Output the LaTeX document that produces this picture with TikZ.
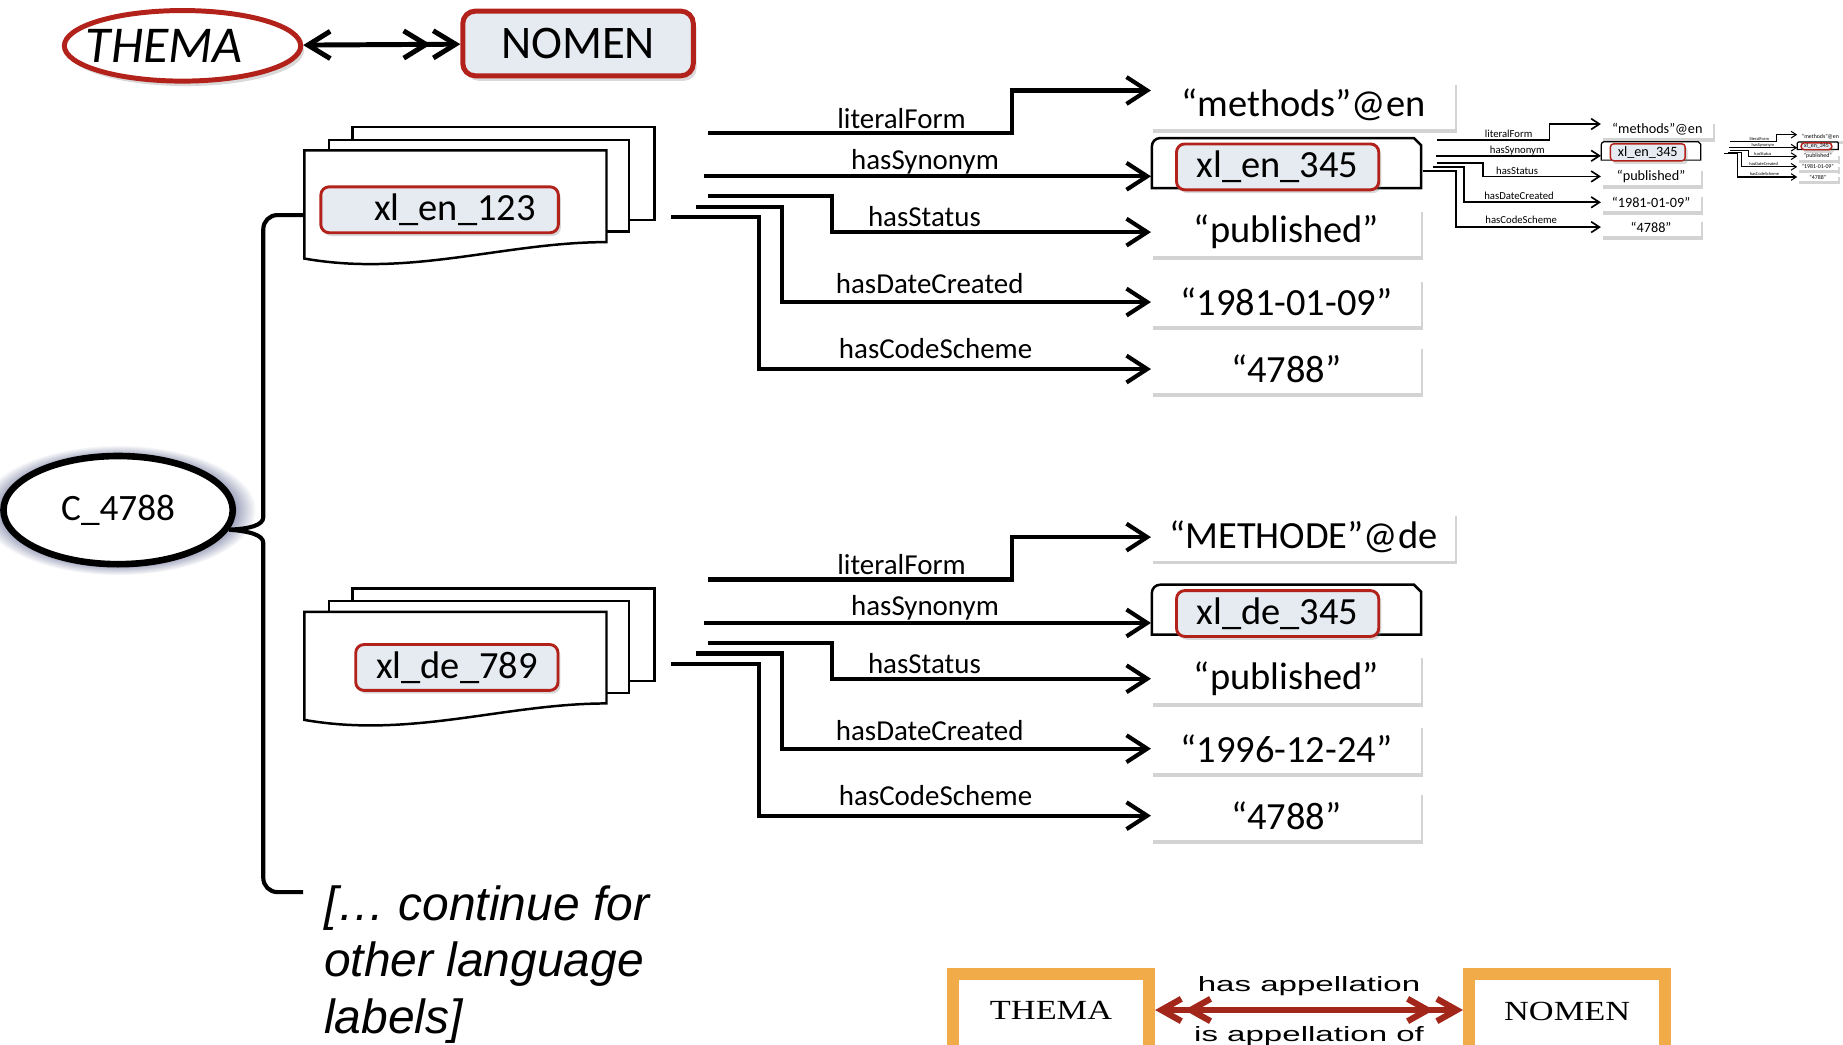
\documentclass[tikz,border=0pt]{standalone}
\usepackage{fontspec}
\setmainfont{Carlito}
\newfontfamily\arialfont{Liberation Sans}
\newfontfamily\legsans[FakeStretch=1.6]{Liberation Sans}
\newfontfamily\legserif[FakeStretch=1.24]{Liberation Serif}
\usetikzlibrary{arrows.meta,shapes.geometric,shadows}

\definecolor{nomenred}{RGB}{178,34,26}
\definecolor{nomenfill}{RGB}{229,235,240}
\definecolor{legorange}{RGB}{241,171,72}
\definecolor{legred}{RGB}{163,38,26}
\definecolor{glowblue}{RGB}{140,145,175}

\tikzset{
  propline/.style={line width=1pt, -{Straight Barb[length=0pt 5,width=0pt 6.5]}},
  propname/.style={font=\fontsize{7}{8}\selectfont, inner sep=0pt, anchor=base},
  valbox/.style={fill=white, inner sep=0pt, minimum width=2.29cm, minimum height=0.41cm,
    font=\fontsize{9.3}{11}\selectfont, drop shadow={opacity=0.35, shadow xshift=0.4pt, shadow yshift=-0.9pt}},
  xlbox/.style={draw=nomenred, fill=nomenfill, line width=0.7pt, rounded corners=2pt, inner sep=0pt,
    minimum height=0.39cm, font=\fontsize{9.3}{11}\selectfont,
    drop shadow={opacity=0.3, shadow xshift=0.6pt, shadow yshift=-0.8pt}},
  tabarea/.style={inner sep=0pt, minimum width=2.29cm, minimum height=0.425cm},
  tabline/.style={draw, fill=white, line width=0.6pt},
  pagesheet/.style={draw, fill=white, line width=0.6pt},
  branch/.style={line width=1pt},
  thumb/.style={transform shape, propline/.append style={line width=0.4pt},
    tabline/.append style={line width=0.3pt}, xlbox/.append style={line width=0.35pt, rounded corners=0.8pt}},
  thema/.style={ellipse, draw=nomenred, line width=1.2pt, fill=white, minimum width=2.01cm,
    minimum height=0.6cm, inner sep=0pt, font=\fontsize{12.5}{15}\selectfont\itshape,
    drop shadow={opacity=0.3, shadow xshift=0.8pt, shadow yshift=-1.2pt}},
  nomen/.style={rectangle, rounded corners=3pt, draw=nomenred, line width=1.2pt, fill=nomenfill,
    minimum width=1.96cm, minimum height=0.55cm, inner sep=0pt, font=\fontsize{11.3}{13}\selectfont,
    drop shadow={opacity=0.3, shadow xshift=0.8pt, shadow yshift=-1.2pt}},
  duo/.style={line width=1.2pt,
    {Straight Barb[length=0pt 4.5,width=0pt 5.5]}-{Straight Barb[length=0pt 4.5,width=0pt 5.5]Straight Barb[length=0pt 4.5,width=0pt 5.5]}},
  concept/.style={ellipse, draw, line width=1.6pt, fill=white, minimum width=1.95cm, minimum height=0.92cm,
    inner sep=0pt, font=\fontsize{9}{11}\selectfont,
    circular glow={fill=glowblue, opacity=0.8, shadow scale=1.2}},
  moretext/.style={anchor=north west, inner sep=0pt, align=left,
    font=\arialfont\itshape\fontsize{11.6}{13.6}\selectfont},
  legbox/.style={anchor=north, draw=legorange, line width=2.85pt, fill=white, minimum width=1.67cm,
    inner xsep=0pt, inner ysep=0.234cm, text depth=1cm, font=\legserif\fontsize{6.7}{8}\selectfont},
  legtext/.style={inner sep=0pt, font=\legsans\fontsize{5}{6}\selectfont},
  legarrow/.style={draw=legred, line width=1.5pt,
    {Straight Barb[length=0pt 3.2,width=0pt 3.6]Straight Barb[length=0pt 3.2,width=0pt 3.6]}-{Straight Barb[length=0pt 3.2,width=0pt 3.6]Straight Barb[length=0pt 3.2,width=0pt 3.6]}}
}

% three sheets of a sense
\newcommand\pagestack{%
  \draw[pagesheet] (300,-108) rectangle (557,-187);
  \draw[pagesheet] (280,-119) rectangle (535,-197);
  \draw[pagesheet] (259,-128) -- (516,-128) -- (516,-206)
    .. controls (430,-206) and (350,-236) .. (259,-220) -- cycle;
}

% the five properties of a label: prefix, values, height of first value
\newcommand\propfan[7]{%
  \coordinate (#1-o) at (0,0);
  \node[valbox, minimum width=2.58cm] (#1-lit) at (538,#7) {#2};
  \node[tabarea] (#1-tab) at (523.5,46.25) {};
  \draw[tabline] (409,25) -- (409,60.5) arc[start angle=180, end angle=90, radius=7]
    -- (632,67.5) -- (638,61.5) -- (638,25) -- cycle;
  \node[xlbox, minimum width=1.72cm] (#1-syn) at (516,43) {#3};
  \node[valbox] (#1-st) at (523.5,-12.5) {#4};
  \node[valbox] (#1-dc) at (523.5,-72) {#5};
  \node[valbox] (#1-cs) at (523.5,-129) {#6};
  \draw[propline] (31,72) -| (290,108) -- (#1-lit.west |- 290,108);
  \draw[propline] (28,35) -- (#1-tab.west |- 28,35);
  \draw[propline] (31,18) -- (137,18) |- (#1-st.west);
  \draw[propline] (21,9) -- (94,9) |- (#1-dc.west);
  \draw[propline] (#1-o) -- (75,0) |- (#1-cs.west);
  \node[propname] (#1-lfn) at (196,76) {literalForm};
  \node[propname] (#1-synn) at (216,41) {hasSynonym};
  \node[propname] (#1-stn) at (215.5,-7.8) {hasStatus};
  \node[propname] (#1-dcn) at (220,-65) {hasDateCreated};
  \node[propname] (#1-csn) at (225,-120) {hasCodeScheme};
}

\begin{document}
\begin{tikzpicture}[x=0.01cm, y=0.01cm]
\useasboundingbox (0,0) rectangle (1568,-889);
\clip (0,0) rectangle (1568,-889);

% THEMA <-> NOMEN
\node[thema] (thema) at (155.3,-39) {\kern-0.31cm THEMA};
\node[nomen] (nomen) at (491.8,-37) {NOMEN};
\draw[duo] (thema) -- (nomen);

% senses
\pagestack
\node[xlbox, minimum width=2.02cm] (xl-en-123) at (374,-178.5) {\hspace{0.26cm}xl\_en\_123};
\coordinate (en-in) at (259,-183);
\begin{scope}[shift={(0,-392.5)}]
  \pagestack
\end{scope}
\node[xlbox, minimum width=1.72cm] (xl-de-789) at (388.7,-567.9) {xl\_de\_789};

% properties
\begin{scope}[shift={(571,-185)}]
  \propfan{en}{“methods”@en}{xl\_en\_345}{“published”}{“1981-01-09”}{“4788”}{95.7}
\end{scope}
\begin{scope}[shift={(571,-565)}]
  \propfan{de}{“METHODE”@de}{xl\_de\_345}{“published”}{“1996-12-24”}{“4788”}{108.4}
\end{scope}
% xl_en_345 again, smaller
\begin{scope}[shift={(1211,-145.5)}, scale=0.37, thumb]
  \propfan{en1}{“methods”@en}{xl\_en\_345}{“published”}{“1981-01-09”}{“4788”}{95.7}
\end{scope}
\begin{scope}[shift={(1467,-131)}, scale=0.152, thumb, propline/.append style={line width=0.25pt}]
  \propfan{en2}{“methods”@en}{xl\_en\_345}{“published”}{“1981-01-09”}{“4788”}{95.7}
\end{scope}

% concept
\node[concept] (c4788) at (100.5,-434) {C\_4788};
\coordinate (more-in) at (258,-759);
\node[moretext] (more) at (275,-753) {[… continue for\\other language\\labels]};
\draw[branch] (en-in) -- (236,-183) arc[start angle=90, end angle=180, radius=12] -- (224,-440)
  .. controls (224,-447) and (212,-450) .. (c4788.-10)
  .. controls (212,-452) and (224,-455) .. (224,-462) -- (224,-747)
  arc[start angle=180, end angle=270, radius=12] -- (more-in);

% legend
\node[legbox] (leg-thema) at (894.2,-823.8) {THEMA};
\node[legbox] (leg-nomen) at (1333.3,-823.8) {NOMEN};
\draw[legarrow] ([yshift=-10.1pt]leg-thema.north east)
  -- node[legtext, above=2.6pt] (leg-has) {has appellation}
     node[legtext, below=3.2pt] (leg-is) {is appellation of}
  ([yshift=-10.1pt]leg-nomen.north west);
\end{tikzpicture}
\end{document}
